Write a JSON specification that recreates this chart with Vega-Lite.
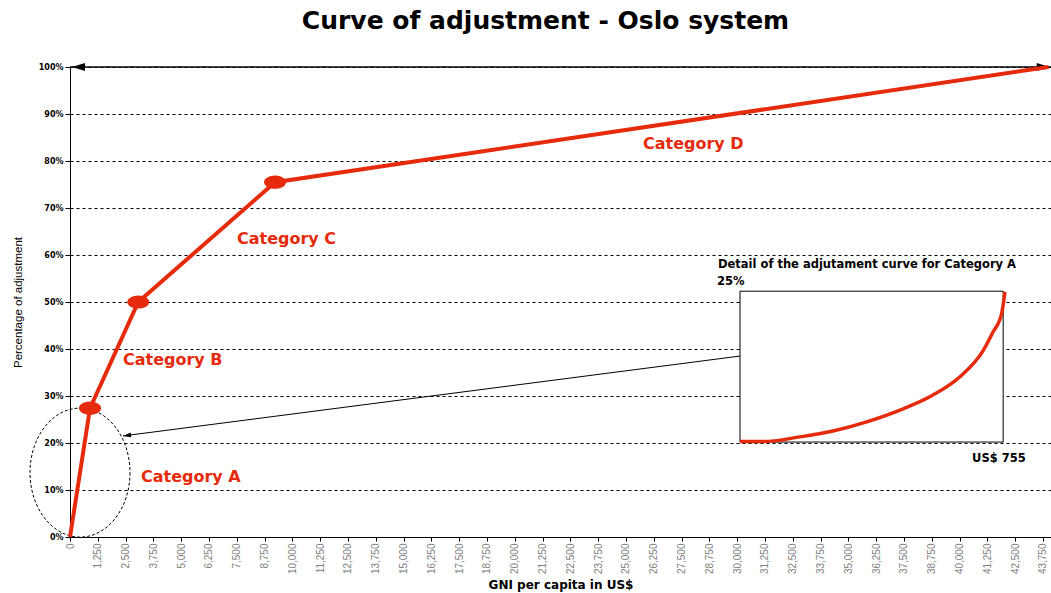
{
  "$schema": "https://vega.github.io/schema/vega-lite/v6.json",
  "width": 981,
  "height": 470,
  "autosize": {"type": "none"},
  "padding": {"left": 70, "top": 67, "right": 0, "bottom": 56},
  "background": "white",
  "config": {"view": {"stroke": null}},
  "title": {"text": "Curve of adjustment - Oslo system", "font": "DejaVu Sans", "fontSize": 25, "fontWeight": "bold", "color": "black", "anchor": "middle", "dx": -15, "offset": 5, "baseline": "alphabetic"},
  "datasets": {
    "curve": [
      {"x": 0, "y": 0},
      {"x": 900, "y": 27.4},
      {"x": 3070, "y": 50},
      {"x": 9220, "y": 75.5},
      {"x": 44000, "y": 100}
    ],
    "markers": [
      {"x": 900, "y": 27.4},
      {"x": 3070, "y": 50},
      {"x": 9220, "y": 75.5}
    ],
    "inset": [
      {"x": 30126, "y": 20.3},
      {"x": 31160, "y": 20.3},
      {"x": 32824, "y": 21.3},
      {"x": 34308, "y": 22.55},
      {"x": 35823, "y": 24.5},
      {"x": 37320, "y": 27.0},
      {"x": 38804, "y": 30.2},
      {"x": 40018, "y": 34.1},
      {"x": 41052, "y": 39.6},
      {"x": 41502, "y": 43.6},
      {"x": 41893, "y": 47.6},
      {"x": 42041, "y": 52.2}
    ],
    "catlabels": [
      {"x": 3192, "y": 11.7, "label": "Category A"},
      {"x": 2383, "y": 36.5, "label": "Category B"},
      {"x": 7509, "y": 62.3, "label": "Category C"},
      {"x": 25764, "y": 82.6, "label": "Category D"}
    ],
    "insettext": [
      {"x": 29137, "y": 57.2, "label": "Detail of the adjutament curve for Category A"},
      {"x": 29090, "y": 53.6, "label": "25%"},
      {"x": 40560, "y": 16.0, "label": "US$ 755"}
    ]
  },
  "encoding": {
    "x": {
      "field": "x", "type": "quantitative",
      "scale": {"domain": [0, 44110], "nice": false, "zero": false},
      "axis": {
        "values": [0,1250,2500,3750,5000,6250,7500,8750,10000,11250,12500,13750,15000,16250,17500,18750,20000,21250,22500,23750,25000,26250,27500,28750,30000,31250,32500,33750,35000,36250,37500,38750,40000,41250,42500,43750],
        "format": ",d",
        "labelAngle": 270,
        "labelColor": "#808080",
        "labelFont": "Liberation Sans",
        "labelFontSize": 10,
        "labelPadding": 2,
        "labelFlush": false,
        "labelOverlap": false,
        "tickColor": "black",
        "tickSize": 4,
        "domainColor": "black",
        "grid": false,
        "title": "GNI per capita in US$",
        "titleFont": "DejaVu Sans",
        "titleFontSize": 12,
        "titleFontWeight": "bold",
        "titleColor": "black",
        "titlePadding": 6
      }
    },
    "y": {
      "field": "y", "type": "quantitative",
      "scale": {"domain": [0, 100], "nice": false},
      "axis": {
        "values": [0,10,20,30,40,50,60,70,80,90,100],
        "labelExpr": "datum.value + '%'",
        "labelFont": "DejaVu Sans",
        "labelFontSize": 8,
        "labelFontWeight": "bold",
        "labelColor": "black",
        "labelPadding": 2,
        "tickColor": "black",
        "tickSize": 5,
        "domainColor": "black",
        "grid": true,
        "gridColor": "black",
        "gridDash": [3, 3],
        "gridWidth": 1,
        "gridOpacity": 1,
        "title": "Percentage of adjustment",
        "titleFont": "Liberation Sans",
        "titleFontSize": 11.5,
        "titleFontWeight": "normal",
        "titleColor": "black",
        "titlePadding": 15
      }
    }
  },
  "layer": [
    {
      "data": {"values": [{"x": 30126, "x2": 41960, "y": 20.2, "y2": 52.3}]},
      "mark": {"type": "rect", "fill": "white", "stroke": "black", "strokeWidth": 1},
      "encoding": {"x2": {"field": "x2"}, "y2": {"field": "y2"}}
    },
    {
      "data": {"values": [{"x": 0, "x2": 44110, "y": 100}]},
      "mark": {"type": "rule", "color": "black", "strokeWidth": 1.5},
      "encoding": {"x2": {"field": "x2"}}
    },
    {
      "data": {"values": [{"x": 90, "y": 100}]},
      "mark": {"type": "point", "shape": "M 0,0 L 2,-0.6 L 2,0.6 Z", "size": 169, "filled": true, "color": "black", "opacity": 1}
    },
    {
      "data": {"values": [{"x": 44050, "y": 100}]},
      "mark": {"type": "point", "shape": "M 0,0 L -2,-0.6 L -2,0.6 Z", "size": 169, "filled": true, "color": "black", "opacity": 1}
    },
    {
      "data": {"values": [{"x": 30126, "y": 38.5}, {"x": 2383, "y": 21.5}]},
      "mark": {"type": "line", "color": "black", "strokeWidth": 1}
    },
    {
      "data": {"values": [{"x": 2383, "y": 21.5}]},
      "mark": {"type": "point", "shape": "M 0,0 L 2,-0.6 L 2,0.6 Z", "size": 64, "angle": -7.4, "filled": true, "color": "black", "opacity": 1}
    },
    {
      "data": {"values": [{"x": 450, "y": 13.7}]},
      "mark": {"type": "point", "shape": "M 0.775,0 C 0.775,0.5523 0.428,1 0,1 C -0.428,1 -0.775,0.5523 -0.775,0 C -0.775,-0.5523 -0.428,-1 0,-1 C 0.428,-1 0.775,-0.5523 0.775,0 Z", "size": 16641, "filled": false, "stroke": "black", "strokeWidth": 1, "strokeDash": [3, 2], "opacity": 1}
    },
    {
      "data": {"name": "curve"},
      "mark": {"type": "line", "color": "#e62a0c", "strokeWidth": 4}
    },
    {
      "data": {"name": "markers"},
      "mark": {"type": "point", "shape": "M 1,0 C 1,0.33 0.55,0.6 0,0.6 C -0.55,0.6 -1,0.33 -1,0 C -1,-0.33 -0.55,-0.6 0,-0.6 C 0.55,-0.6 1,-0.33 1,0 Z", "size": 484, "filled": true, "color": "#e62a0c", "opacity": 1}
    },
    {
      "data": {"name": "inset"},
      "mark": {"type": "line", "color": "#e62a0c", "strokeWidth": 3.5, "interpolate": "monotone"}
    },
    {
      "data": {"name": "catlabels"},
      "mark": {"type": "text", "align": "left", "baseline": "alphabetic", "font": "DejaVu Sans", "fontSize": 16, "fontWeight": "bold", "color": "#e62a0c"},
      "encoding": {"text": {"field": "label"}}
    },
    {
      "data": {"name": "insettext"},
      "mark": {"type": "text", "align": "left", "baseline": "alphabetic", "font": "DejaVu Sans", "fontSize": 11.5, "fontWeight": "bold", "color": "black"},
      "encoding": {"text": {"field": "label"}}
    }
  ]
}
